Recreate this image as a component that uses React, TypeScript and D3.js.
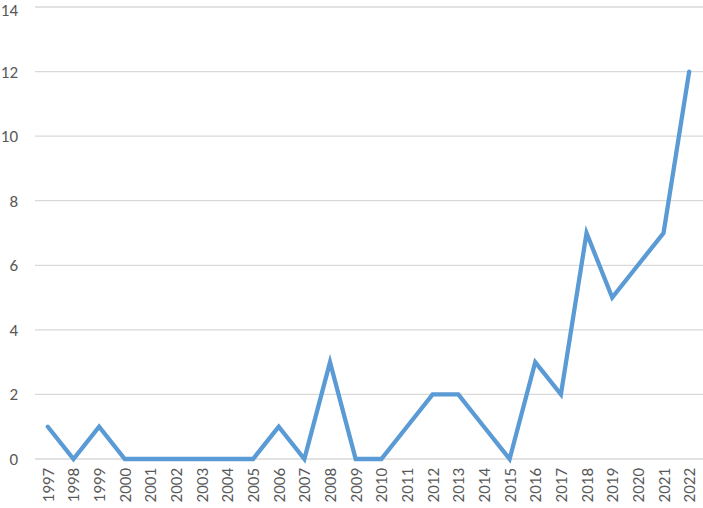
import React from "react";
import * as d3 from "d3";

const years = ["1997","1998","1999","2000","2001","2002","2003","2004","2005","2006","2007","2008","2009","2010","2011","2012","2013","2014","2015","2016","2017","2018","2019","2020","2021","2022"];
const values = [1,0,1,0,0,0,0,0,0,1,0,3,0,0,1,2,2,1,0,3,2,7,5,6,7,12];
const yTicks = [0,2,4,6,8,10,12,14];

export default function App() {
  const W = 703, H = 508;
  const left = 35, right = 702, top = 7, bottom = 459;
  const x = d3.scaleBand<string>().domain(years).range([left, right]).padding(0);
  const y = d3.scaleLinear().domain([0, 14]).range([bottom, top]);
  const line = d3.line<number>()
    .x((_, i) => (x(years[i]) as number) + x.bandwidth() / 2)
    .y((d) => y(d));
  const font = "Calibri, Carlito, 'Liberation Sans', Arial, sans-serif";
  return (
    <svg width={W} height={H} style={{ position: "absolute", left: 0, top: 0, background: "#fff" }}>
      {yTicks.map((t) => (
        <g key={t}>
          <line x1={left} x2={W} y1={y(t)} y2={y(t)} stroke="#d9d9d9" strokeWidth={1.3} />
          <text x={18} y={Math.max(y(t), 10)} dy="0.35em" textAnchor="end" fontSize={17} fill="#595959" fontFamily={font}>{t}</text>
        </g>
      ))}
      <path d={line(values) as string} fill="none" stroke="#5b9bd5" strokeWidth={4.3} strokeLinejoin="miter" strokeLinecap="round" />
      {years.map((yr) => {
        const cx = (x(yr) as number) + x.bandwidth() / 2;
        return (
          <text key={yr} transform={`translate(${cx + 6},468) rotate(-90)`} textAnchor="end" fontSize={17} fill="#595959" fontFamily={font}>{yr}</text>
        );
      })}
    </svg>
  );
}
